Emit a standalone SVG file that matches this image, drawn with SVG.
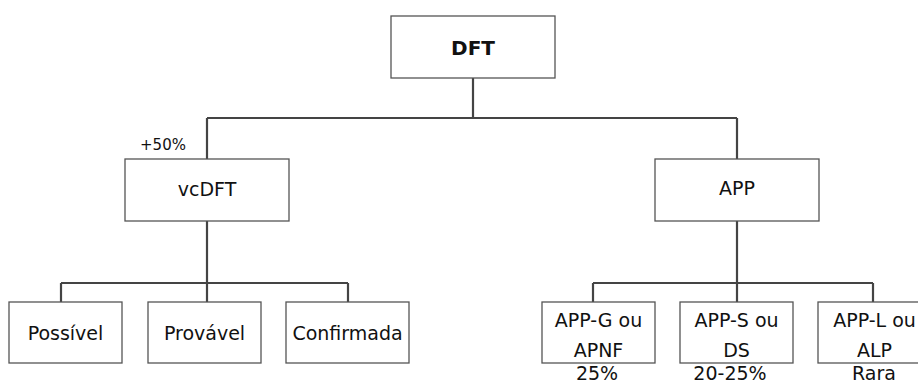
<svg xmlns="http://www.w3.org/2000/svg" width="918" height="385" viewBox="0 0 918 385">
<style>
.box{fill:#fff;stroke:#555;stroke-width:1.3}
.t{font-family:"DejaVu Sans",sans-serif;font-size:19px;fill:#111;text-anchor:middle}
.b{font-weight:bold;font-size:20px}
.s{font-size:15px}
.c{fill:none;stroke:#444;stroke-width:2.2}
</style>
<rect width="918" height="385" fill="#fff"/>
<g id="connectors">
<path class="c" d="M473 78V118M207 118H737M207 118V159M737 118V159"/>
<path class="c" d="M207 221V283M61 283H348M61 283V302M207 283V302M348 283V302"/>
<path class="c" d="M737 221V283M593 283H873M593 283V302M737 283V302M873 283V302"/>
</g>
<g id="dft"><rect class="box" x="391" y="16" width="164" height="62"/><text class="t b" x="473" y="55">DFT</text></g>
<g id="vcdft"><rect class="box" x="125" y="159" width="164" height="62"/><text class="t" x="207" y="196">vcDFT</text><text class="t s" x="163" y="150">+50%</text></g>
<g id="app"><rect class="box" x="655" y="159" width="164" height="62"/><text class="t" x="737" y="195">APP</text></g>
<g id="possivel"><rect class="box" x="9" y="302" width="113" height="61"/><text class="t" x="65.5" y="340">Possível</text></g>
<g id="provavel"><rect class="box" x="148" y="302" width="113" height="61"/><text class="t" x="204.5" y="340">Provável</text></g>
<g id="confirmada"><rect class="box" x="286" y="302" width="123" height="61"/><text class="t" x="347.5" y="340">Confirmada</text></g>
<g id="appg"><rect class="box" x="542" y="302" width="113" height="61"/><text class="t" x="598.5" y="327">APP-G ou</text><text class="t" x="598.5" y="357">APNF</text><text class="t" x="597" y="380">25%</text></g>
<g id="apps"><rect class="box" x="680" y="302" width="113" height="61"/><text class="t" x="736.5" y="327">APP-S ou</text><text class="t" x="736.5" y="357">DS</text><text class="t" x="730" y="380">20-25%</text></g>
<g id="appl"><rect class="box" x="818" y="302" width="113" height="61"/><text class="t" x="874.5" y="327">APP-L ou</text><text class="t" x="874.5" y="357">ALP</text><text class="t" x="874" y="380">Rara</text></g>
</svg>
